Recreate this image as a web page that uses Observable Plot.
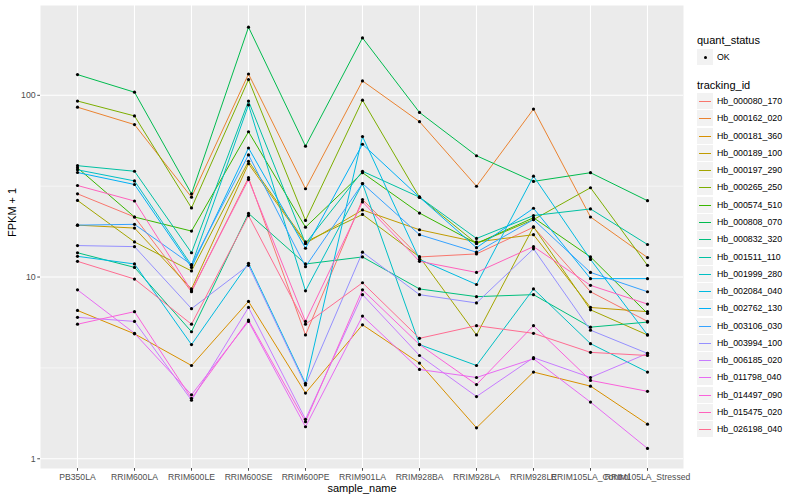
<!DOCTYPE html>
<html>
<head>
<meta charset="utf-8">
<script src="https://cdn.jsdelivr.net/npm/d3@7"></script>
<script src="https://cdn.jsdelivr.net/npm/@observablehq/plot@0.6"></script>
<style>
  html, body { margin: 0; padding: 0; background: white; }
  #wrap { position: relative; width: 800px; height: 500px; font-family: "Liberation Sans", Arial, sans-serif; }
  #legend { position: absolute; left: 697px; top: 0; }
  .ltitle { position: absolute; left: 0; font-size: 11px; color: black; white-space: nowrap; }
  .lkey { position: absolute; left: 0; width: 16px; height: 16px; background: #F2F2F2; }
  .llab { position: absolute; left: 20px; font-size: 8.8px; color: black; white-space: nowrap; line-height: 10px; }
</style>
</head>
<body>
<div id="wrap"><div id="legend"></div></div>
<script>
const samples = ["PB350LA", "RRIM600LA", "RRIM600LE", "RRIM600SE", "RRIM600PE", "RRIM901LA",
  "RRIM928BA", "RRIM928LA", "RRIM928LE", "RRIM105LA_Control", "RRIM105LA_Stressed"];

const trackingIds = ["Hb_000080_170", "Hb_000162_020", "Hb_000181_360", "Hb_000189_100", "Hb_000197_290",
  "Hb_000265_250", "Hb_000574_510", "Hb_000808_070", "Hb_000832_320", "Hb_001511_110",
  "Hb_001999_280", "Hb_002084_040", "Hb_002762_130", "Hb_003106_030", "Hb_003994_100",
  "Hb_006185_020", "Hb_011798_040", "Hb_014497_090", "Hb_015475_020", "Hb_026198_040"];

const palette = ["#F8766D", "#EA8331", "#D89000", "#C09B00", "#A3A500", "#7CAE00", "#39B600", "#00BB4E",
  "#00BF7D", "#00C1A3", "#00BFC4", "#00BAE0", "#00B0F6", "#35A2FF", "#9590FF", "#C77CFF",
  "#E76BF3", "#FA62DB", "#FF62BC", "#FF6C91"];

const yTicks = [1, 10, 100];
const quantStatus = ["OK"];

// FPKM + 1, one row per tracking_id, columns in the order of samples
const fpkm = [
  [28.7, 21.4, 8.3, 35.2, 4.8, 26.7, 12.9, 13.4, 18.8, 8.3, 5.7],
  [86, 69, 27.5, 131, 30.6, 120, 71.6, 31.6, 84, 21.4, 12.8],
  [6.55, 4.87, 3.26, 7.34, 2.30, 5.46, 3.36, 1.48, 3.0, 2.51, 1.55],
  [19.3, 18.6, 8.6, 42, 15.3, 23.4, 18.2, 15.6, 17.1, 6.8, 6.45],
  [26.4, 15.6, 10.8, 43.3, 15.6, 22.1, 12.9, 4.8, 18.9, 6.6, 4.8],
  [93, 77, 24.0, 122, 20.5, 94, 27.5, 15.3, 20.7, 31, 11.6],
  [39.9, 21.4, 17.9, 63, 18.8, 37.5, 22.5, 15.3, 21.2, 12.9, 6.3],
  [130, 104, 28.7, 237, 52.5, 207, 80.5, 46.5, 33.6, 37.5, 26.3],
  [13.6, 11.3, 5.0, 22.4, 11.8, 12.9, 8.6, 7.8, 8.0, 5.3, 5.65],
  [41, 38.2, 13.6, 93, 15.3, 38.2, 27.5, 16.3, 21.8, 23.7, 15.1],
  [38.9, 33.8, 11.6, 88.5, 8.4, 32.7, 4.25, 3.26, 8.6, 4.3, 3.0],
  [13.0, 11.8, 4.25, 11.9, 2.6, 59.3, 12.5, 9.1, 35.9, 12.5, 4.8],
  [37.6, 32.3, 11.3, 51.3, 14.4, 53.8, 27.5, 14.5, 23.9, 9.8, 9.8],
  [19.3, 19.5, 11.7, 47, 11.4, 32.7, 17.1, 13.7, 20.7, 10.6, 8.3],
  [14.9, 14.7, 6.7, 11.6, 2.55, 13.7, 8.0, 7.2, 14.3, 5.1, 3.8],
  [6.0, 5.7, 2.1, 6.8, 1.65, 8.0, 3.7, 2.2, 3.6, 2.8, 3.8],
  [8.5, 4.9, 2.25, 5.7, 1.5, 6.1, 3.1, 2.8, 3.55, 2.05, 1.14],
  [5.5, 6.45, 2.15, 5.8, 1.6, 8.5, 4.25, 2.56, 5.4, 2.7, 2.35],
  [31.9, 26.2, 8.4, 34.4, 5.7, 25.9, 12.2, 10.6, 14.7, 9.0, 7.1],
  [12.2, 9.75, 5.5, 21.8, 5.5, 9.3, 4.6, 5.4, 4.9, 3.85, 3.7]
];

const data = trackingIds.flatMap((id, i) =>
  samples.map((s, j) => ({ id, sample: s, value: fpkm[i][j], status: quantStatus[0] })));

const minorTicks = [Math.sqrt(10), Math.sqrt(1000)];

const chart = Plot.plot({
  width: 800,
  height: 500,
  marginLeft: 40,
  marginRight: 117,
  marginTop: 5,
  marginBottom: 32,
  style: { fontFamily: "Liberation Sans, Arial, sans-serif", background: "white", overflow: "visible" },
  x: { type: "point", domain: samples, padding: 0.6, axis: null },
  y: { type: "log", domain: [0.884, 312], axis: null },
  color: { domain: trackingIds, range: palette },
  marks: [
    Plot.frame({ fill: "#EBEBEB", stroke: "none" }),
    Plot.ruleY(minorTicks, { stroke: "white", strokeWidth: 0.55 }),
    Plot.ruleY(yTicks, { stroke: "white", strokeWidth: 1.1 }),
    Plot.ruleX(samples, { stroke: "white", strokeWidth: 1.1 }),
    Plot.line(data, { x: "sample", y: "value", z: "id", stroke: "id", strokeWidth: 1 }),
    Plot.dot(data, { x: "sample", y: "value", fill: "black", r: 1.6 }),
    Plot.axisX({ tickSize: 2.75, tickPadding: 2.5, fontSize: 8.6, color: "#4D4D4D", label: null }),
    Plot.axisY(yTicks, { tickSize: 2.75, tickPadding: 2, fontSize: 8.8, color: "#4D4D4D", label: null, tickFormat: d => String(d) }),
    Plot.text(["FPKM + 1"], { text: d => d, frameAnchor: "left", dx: -28, rotate: -90, fontSize: 11, fill: "black" }),
    Plot.text(["sample_name"], { text: d => d, frameAnchor: "bottom", dy: 23, fontSize: 11, fill: "black" })
  ]
});
document.getElementById("wrap").prepend(chart);
chart.style.position = "absolute";
chart.style.left = "0";
chart.style.top = "0";

// Legend
const legend = document.getElementById("legend");
function add(cls, top, text, extra) {
  const el = document.createElement("div");
  el.className = cls;
  el.style.top = top + "px";
  if (text) el.textContent = text;
  if (extra) extra(el);
  legend.appendChild(el);
  return el;
}
add("ltitle", 34, "quant_status");
add("lkey", 49, null, el => {
  const d = document.createElement("div");
  d.style.cssText = "position:absolute;left:6.5px;top:6.5px;width:3.2px;height:3.2px;border-radius:50%;background:black;";
  el.appendChild(d);
});
add("llab", 52, quantStatus[0]);
add("ltitle", 79, "tracking_id");
trackingIds.forEach((id, i) => {
  const cy = Math.round(101 + i * 17.28);
  add("lkey", cy - 8, null, el => {
    const l = document.createElement("div");
    l.style.cssText = `position:absolute;left:2px;top:8px;width:12px;height:1px;background:${palette[i]};`;
    el.appendChild(l);
  });
  add("llab", cy - 5, id);
});
</script>
</body>
</html>
